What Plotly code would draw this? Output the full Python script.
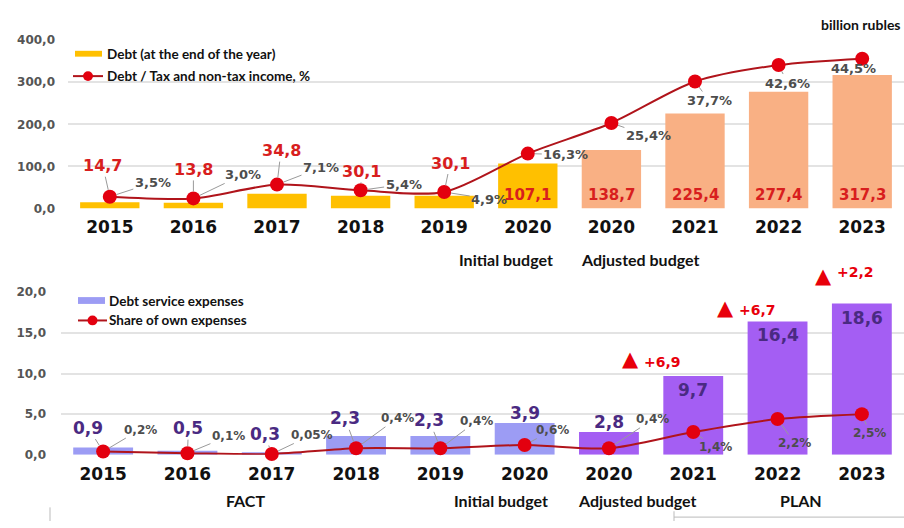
import plotly.graph_objects as go

W, H = 904, 528

# ---------------- data ----------------
years = ["2015", "2016", "2017", "2018", "2019", "2020", "2020", "2021", "2022", "2023"]
phase = ["fact"] * 5 + ["initial", "adjusted"] + ["plan"] * 3
debt = [14.7, 13.8, 34.8, 30.1, 30.1, 107.1, 138.7, 225.4, 277.4, 317.3]
debt_ratio = [3.5, 3.0, 7.1, 5.4, 4.9, 16.3, 25.4, 37.7, 42.6, 44.5]
service = [0.9, 0.5, 0.3, 2.3, 2.3, 3.9, 2.8, 9.7, 16.4, 18.6]
service_share = [0.2, 0.1, 0.05, 0.4, 0.4, 0.6, 0.4, 1.4, 2.2, 2.5]
delta_idx = [7, 8, 9]
deltas = ["+6,9", "+6,7", "+2,2"]
top_ticks = [0, 100, 200, 300, 400]
bottom_ticks = [0, 5, 10, 15, 20]

# ---------------- styles ----------------
GOLD, SALMON = "#FFC000", "#F9B084"
PERI, PURPLE = "#9C9CF4", "#A45EF3"
LINE_RED, DOT_RED = "#B0141B", "#E3000F"
LABEL_RED, LABEL_PURPLE, PCT_GREY = "#D81E1E", "#4A2A82", "#4D4D4D"
NUM_FONT = "DejaVu Sans"
TXT_FONT = "Lato"

top_colors = [GOLD if p in ("fact", "initial") else SALMON for p in phase]
bot_colors = [PERI if p in ("fact", "initial") else PURPLE for p in phase]


def fmt(v):
    return str(v).replace(".", ",")


def fmt1(v):
    return f"{v:.1f}".replace(".", ",")


def px(x):
    return x / W


def py(y):
    return 1 - y / H


xs = list(range(len(years)))

fig = go.Figure()
fig.add_trace(go.Bar(x=xs, y=debt, marker=dict(color=top_colors, line_width=0),
                     width=0.71, xaxis="x", yaxis="y", showlegend=False))
fig.add_trace(go.Scatter(x=xs, y=debt_ratio, xaxis="x", yaxis="y2", mode="lines+markers",
                         line=dict(color=LINE_RED, width=2, shape="spline", smoothing=0.8),
                         marker=dict(color=DOT_RED, size=14, line=dict(width=0)),
                         cliponaxis=False, showlegend=False))
fig.add_trace(go.Bar(x=xs, y=service, marker=dict(color=bot_colors, line_width=0),
                     width=0.71, xaxis="x2", yaxis="y3", showlegend=False))
fig.add_trace(go.Scatter(x=xs, y=service_share, xaxis="x2", yaxis="y4", mode="lines+markers",
                         line=dict(color=LINE_RED, width=2, shape="spline", smoothing=0.8),
                         marker=dict(color=DOT_RED, size=14, line=dict(width=0)),
                         cliponaxis=False, showlegend=False))

ann = []
shapes = []

# ---------- top panel labels ----------
top_val_off = [(-7, -31), (0, -29), (4, -34), (1, -19), (6, -29)]
top_pct_off = [(43, -14), (50, -24), (44, -17), (43, -6), (45, 7),
               (38, 1), (37, 13), (14, 19), (9, 18), (-9, 10)]
for i in xs:
    if phase[i] == "fact":
        ax, ay = top_val_off[i]
        ann.append(dict(x=i, y=debt_ratio[i], xref="x", yref="y2", text=fmt1(debt[i]),
                        showarrow=True, ax=ax, ay=ay, arrowhead=0, arrowwidth=1,
                        arrowcolor="#9A9A9A", standoff=7,
                        font=dict(family=NUM_FONT, size=16, color=LABEL_RED, weight=700)))
    else:
        ann.append(dict(x=i, y=0, xref="x", yref="y", text=fmt1(debt[i]), showarrow=False,
                        yshift=14, font=dict(family=NUM_FONT, size=15, color=LABEL_RED, weight=700)))
    ax, ay = top_pct_off[i]
    ann.append(dict(x=i, y=debt_ratio[i], xref="x", yref="y2", text=fmt(debt_ratio[i]) + "%",
                    showarrow=True, ax=ax, ay=ay, arrowhead=0, arrowwidth=1,
                    arrowcolor="#9A9A9A", standoff=7,
                    font=dict(family=NUM_FONT, size=13, color=PCT_GREY, weight=700)))

# ---------- bottom panel labels ----------
bot_val_off = [(-15, -24), (1, -25), (-7, -20), (-11, -30), (-11, -28)]
bot_pct_off = [(37, -22), (41, -17), (40, -19), (41, -30), (36, -27),
               (28, -15), (44, -29), (22, 15), (17, 24), (8, 19)]
for i in xs:
    if phase[i] == "fact":
        ax, ay = bot_val_off[i]
        ann.append(dict(x=i, y=service_share[i], xref="x2", yref="y4", text=fmt1(service[i]),
                        showarrow=True, ax=ax, ay=ay, arrowhead=0, arrowwidth=1,
                        arrowcolor="#9A9A9A", standoff=7,
                        font=dict(family=NUM_FONT, size=17, color=LABEL_PURPLE, weight=700)))
    elif phase[i] in ("initial", "adjusted"):
        ann.append(dict(x=i, y=service[i], xref="x2", yref="y3", text=fmt1(service[i]),
                        showarrow=False, yshift=10,
                        font=dict(family=NUM_FONT, size=17, color=LABEL_PURPLE, weight=700)))
    else:
        ann.append(dict(x=i, y=service[i], xref="x2", yref="y3", text=fmt1(service[i]),
                        showarrow=False, yshift=-14,
                        font=dict(family=NUM_FONT, size=17, color=LABEL_PURPLE, weight=700)))
    ax, ay = bot_pct_off[i]
    ann.append(dict(x=i, y=service_share[i], xref="x2", yref="y4", text=fmt(service_share[i]) + "%",
                    showarrow=True, ax=ax, ay=ay, arrowhead=0, arrowwidth=1,
                    arrowcolor="#9A9A9A", standoff=7,
                    font=dict(family=NUM_FONT, size=12, color=PCT_GREY, weight=700)))

# ---------- deltas ----------
tri_off = [(-63, 17), (-52, 13), (-38, 28)]
dtxt_off = [(-31, 14), (-20, 11), (-6, 32)]
for k, i in enumerate(delta_idx):
    ann.append(dict(x=i, y=service[i], xref="x2", yref="y3", text="▲", showarrow=False,
                    xshift=tri_off[k][0], yshift=tri_off[k][1],
                    font=dict(family="DejaVu Sans", size=21, color="#E8000B")))
    ann.append(dict(x=i, y=service[i], xref="x2", yref="y3", text=deltas[k], showarrow=False,
                    xshift=dtxt_off[k][0], yshift=dtxt_off[k][1],
                    font=dict(family=NUM_FONT, size=14, color="#E8000B", weight=700)))

# ---------- phase / unit texts ----------
def ptext(t, x, y, size=16, anchor="center"):
    ann.append(dict(x=px(x), y=py(y), xref="paper", yref="paper", text=t, showarrow=False,
                    xanchor=anchor, yanchor="middle",
                    font=dict(family=TXT_FONT, size=size, color="#111111", weight=700)))

ptext("billion rubles", 903, 18, 14, "right")
ptext("Initial budget", 506, 259)
ptext("Adjusted budget", 640, 259)
ptext("FACT", 246, 507)
ptext("Initial budget", 501, 507)
ptext("Adjusted budget", 637, 507)
ptext("PLAN", 801, 507)

# ---------- manual legends ----------
def leg_bar(x0, x1, y0, y1, color, label, tx, ty):
    shapes.append(dict(type="rect", xref="paper", yref="paper", x0=px(x0), x1=px(x1),
                       y0=py(y1), y1=py(y0), fillcolor=color, line_width=0))
    ptext(label, tx, ty, 13.5, "left")


def leg_line(x0, x1, yy, label, tx):
    shapes.append(dict(type="line", xref="paper", yref="paper", x0=px(x0), x1=px(x1),
                       y0=py(yy), y1=py(yy), line=dict(color=LINE_RED, width=2)))
    xc = (x0 + x1) / 2
    shapes.append(dict(type="circle", xref="paper", yref="paper", x0=px(xc - 5), x1=px(xc + 5),
                       y0=py(yy + 5), y1=py(yy - 5), fillcolor=DOT_RED, line_width=0))
    ptext(label, tx, yy, 13.5, "left")


leg_bar(75, 102, 45, 51, GOLD, "Debt (at the end of the year)", 105, 48)
leg_line(73, 103, 71, "Debt / Tax and non-tax income, %", 105)
leg_bar(78, 105, 298, 305, PERI, "Debt service expenses", 107, 302)
leg_line(78, 107, 322, "Share of own expenses", 107)

# faint bracket lines at the bottom
for (x0, y0, x1, y1) in [(50, 514, 50, 528), (674, 518, 674, 528), (674, 524, 904, 524)]:
    shapes.append(dict(type="line", xref="paper", yref="paper", x0=px(x0), x1=px(x1),
                       y0=py(y0), y1=py(y1), line=dict(color="#BBBBBB", width=1)))

tick_font_y = dict(family=NUM_FONT, size=12, color="#555555", weight=700)
tick_font_x = dict(family=NUM_FONT, size=17, color="#111111", weight=700)

fig.update_layout(
    width=W, height=H, margin=dict(l=0, r=0, t=0, b=0),
    paper_bgcolor="white", plot_bgcolor="white", bargap=0.29,
    xaxis=dict(domain=[px(68), 1.0], range=[-0.5, 9.5], anchor="y", tickmode="array",
               tickvals=xs, ticktext=years, tickfont=tick_font_x, showgrid=False,
               zeroline=False, showline=False, ticks="", ticklabelstandoff=6),
    yaxis=dict(domain=[py(207), py(34)], range=[0, 400], tickmode="array",
               tickvals=top_ticks, ticktext=[fmt1(v) for v in top_ticks], tickfont=tick_font_y,
               gridcolor="#E3E3E3", gridwidth=1.5, zeroline=False, showline=False,
               ticklabelstandoff=12),
    yaxis2=dict(overlaying="y", range=[0, 50], visible=False, anchor="x"),
    xaxis2=dict(domain=[px(61), 1.0], range=[-0.5, 9.5], anchor="y3", tickmode="array",
                tickvals=xs, ticktext=years, tickfont=tick_font_x, showgrid=False,
                zeroline=False, showline=False, ticks="", ticklabelstandoff=7),
    yaxis3=dict(domain=[py(460), py(293)], range=[0, 20], anchor="x2", tickmode="array",
                tickvals=bottom_ticks, ticktext=[fmt1(v) for v in bottom_ticks],
                tickfont=tick_font_y, gridcolor="#E3E3E3", gridwidth=1.5, zeroline=False,
                showline=False, ticklabelstandoff=14),
    yaxis4=dict(overlaying="y3", range=[0, 10], visible=False, anchor="x2"),
    annotations=ann,
    shapes=shapes,
)

fig.write_html("out.html", config={"displayModeBar": False},
               post_script="document.body.style.margin='0';document.body.style.overflow='hidden';")
